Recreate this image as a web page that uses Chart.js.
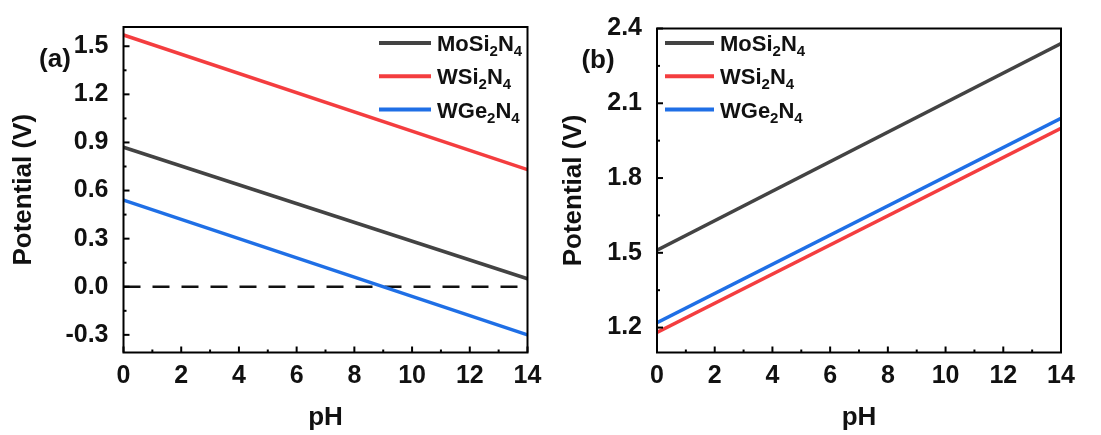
<!DOCTYPE html>
<html>
<head>
<meta charset="utf-8">
<script src="https://cdn.jsdelivr.net/npm/chart.js@4/dist/chart.umd.min.js"></script>
<style>
  html, body { margin: 0; padding: 0; background: #fff; }
  #wrap { position: relative; width: 1101px; height: 435px; overflow: hidden; }
  canvas { position: absolute; top: 0; }
  #chartA { left: 0; }
  #chartB { left: 550px; }
</style>
</head>
<body>
<div id="wrap">
  <canvas id="chartA" width="550" height="435"></canvas>
  <canvas id="chartB" width="551" height="435"></canvas>
</div>
<script>
// values (straight lines, so the two ends are enough)
const pH = [0, 14];
const seriesNames = ['MoSi2N4', 'WSi2N4', 'WGe2N4'];
const seriesColors = ['#434343', '#f43d3f', '#1f6fe6'];

// (a)
const moSi2N4A = [0.87, 0.05];
const wSi2N4A = [1.57, 0.73];
const wGe2N4A = [0.54, -0.30];
const zeroLine = [0, 0];
const yTicksA = [-0.3, 0, 0.3, 0.6, 0.9, 1.2, 1.5];

// (b)
const moSi2N4B = [1.51, 2.34];
const wSi2N4B = [1.18, 2.00];
const wGe2N4B = [1.22, 2.04];
const yTicksB = [1.2, 1.5, 1.8, 2.1, 2.4];

const xTicks = [0, 2, 4, 6, 8, 10, 12, 14];

const FONT = '"Liberation Sans", Arial, sans-serif';

const pts = (ys) => pH.map((x, i) => ({ x: x, y: ys[i] }));

const line = (label, ys, color) => ({
    label: label,
    data: pts(ys),
    borderColor: color,
    backgroundColor: color,
    borderWidth: 3.5,
    pointRadius: 0,
    tension: 0
});

// frame, inward ticks, legend with subscripts and the panel letter
const decor = {
    id: 'decor',
    afterDraw(chart, args, opts) {
        const ctx = chart.ctx;
        const a = chart.chartArea;
        const xs = chart.scales.x, ys = chart.scales.y;
        ctx.save();
        ctx.strokeStyle = '#000';
        ctx.lineWidth = 2;
        ctx.lineCap = 'butt';

        // ticks on the bottom axis
        const xv = xs.ticks.map(t => t.value);
        xv.forEach((v, i) => {
            const px = xs.getPixelForValue(v);
            ctx.beginPath(); ctx.moveTo(px, a.bottom); ctx.lineTo(px, a.bottom - 6); ctx.stroke();
            if (i < xv.length - 1) {
                const mx = xs.getPixelForValue((v + xv[i + 1]) / 2);
                ctx.beginPath(); ctx.moveTo(mx, a.bottom); ctx.lineTo(mx, a.bottom - 3); ctx.stroke();
            }
        });

        // ticks on the left axis
        const yv = ys.ticks.map(t => t.value);
        yv.forEach((v, i) => {
            const py = ys.getPixelForValue(v);
            ctx.beginPath(); ctx.moveTo(a.left, py); ctx.lineTo(a.left + 6, py); ctx.stroke();
            if (i < yv.length - 1) {
                const my = ys.getPixelForValue((v + yv[i + 1]) / 2);
                ctx.beginPath(); ctx.moveTo(a.left, my); ctx.lineTo(a.left + 3, my); ctx.stroke();
            }
        });

        ctx.strokeRect(a.left, a.top, a.right - a.left, a.bottom - a.top);

        // legend
        const sets = chart.data.datasets.filter(d => seriesNames.includes(d.label));
        sets.forEach((d, i) => {
            const y = opts.legendY + i * opts.legendDy;
            ctx.strokeStyle = d.borderColor;
            ctx.lineWidth = 4;
            ctx.beginPath(); ctx.moveTo(opts.legendX, y); ctx.lineTo(opts.legendX + opts.legendLen, y); ctx.stroke();

            let tx = opts.legendX + opts.legendLen + 6;
            ctx.fillStyle = '#111';
            ctx.textBaseline = 'alphabetic';
            ctx.textAlign = 'left';
            const base = y + 8;
            d.label.split(/(\d)/).forEach(part => {
                if (!part) return;
                const sub = /^\d$/.test(part);
                ctx.font = 'bold ' + (sub ? 15 : 22) + 'px ' + FONT;
                ctx.fillText(part, tx, sub ? base + 5 : base);
                tx += ctx.measureText(part).width;
            });
        });

        // panel letter
        ctx.fillStyle = '#111';
        ctx.font = 'bold 26px ' + FONT;
        ctx.textAlign = 'center';
        ctx.textBaseline = 'middle';
        ctx.fillText(opts.tag, opts.tagX, opts.tagY);
        ctx.restore();
    }
};

const makeChart = (id, datasets, yMin, yMax, yTicks, leftW, rightPad, topPad, deco) => {
    new Chart(document.getElementById(id), {
        type: 'line',
        data: { datasets: datasets },
        options: {
            responsive: false,
            animation: false,
            layout: { padding: { left: 0, right: rightPad, top: topPad, bottom: 0 } },
            plugins: {
                legend: { display: false },
                tooltip: { enabled: false },
                decor: deco
            },
            scales: {
                x: {
                    type: 'linear',
                    min: 0, max: 14,
                    afterBuildTicks: (s) => { s.ticks = xTicks.map(v => ({ value: v })); },
                    afterFit: (s) => { s.height = 82.5; },
                    grid: { display: false },
                    border: { display: false },
                    ticks: {
                        color: '#111',
                        padding: 1,
                        maxRotation: 0,
                        font: { family: FONT, size: 25, weight: 'bold' }
                    },
                    title: {
                        display: true,
                        text: 'pH',
                        color: '#111',
                        padding: { top: 0, bottom: 2 },
                        font: { family: FONT, size: 26, weight: 'bold' }
                    }
                },
                y: {
                    type: 'linear',
                    min: yMin, max: yMax,
                    afterBuildTicks: (s) => { s.ticks = yTicks.map(v => ({ value: v })); },
                    afterFit: (s) => { s.width = leftW; },
                    grid: { display: false },
                    border: { display: false },
                    ticks: {
                        color: '#111',
                        padding: 7,
                        font: { family: FONT, size: 25, weight: 'bold' },
                        callback: (v) => Number(v).toFixed(1)
                    },
                    title: {
                        display: true,
                        text: 'Potential (V)',
                        color: '#111',
                        padding: { top: 8, bottom: 0 },
                        font: { family: FONT, size: 26, weight: 'bold' }
                    }
                }
            }
        },
        plugins: [decor]
    });
};

makeChart('chartA', [
    line(seriesNames[0], moSi2N4A, seriesColors[0]),
    line(seriesNames[1], wSi2N4A, seriesColors[1]),
    line(seriesNames[2], wGe2N4A, seriesColors[2]),
    {
        label: 'zero',
        data: pts(zeroLine),
        borderColor: '#111',
        borderWidth: 2.5,
        borderDash: [17, 12],
        pointRadius: 0
    }
], -0.41, 1.62, yTicksA, 123.5, 22.5, 27,
   { legendX: 379, legendLen: 52, legendY: 43, legendDy: 33.3, tag: '(a)', tagX: 55, tagY: 60 });

makeChart('chartB', [
    line(seriesNames[0], moSi2N4B, seriesColors[0]),
    line(seriesNames[1], wSi2N4B, seriesColors[1]),
    line(seriesNames[2], wGe2N4B, seriesColors[2])
], 1.1, 2.4, yTicksB, 107, 40, 28.5,
   { legendX: 115, legendLen: 49, legendY: 43, legendDy: 33.3, tag: '(b)', tagX: 48, tagY: 61 });
</script>
</body>
</html>
